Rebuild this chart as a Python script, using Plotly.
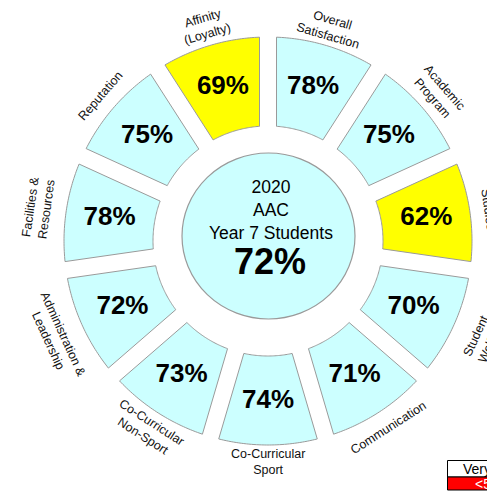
import numpy as np
import plotly.graph_objects as go

# ---------------- data ----------------
categories = ["Overall<br>Satisfaction", "Academic<br>Program", "Studies", "Student<br>Welfare",
              "Communication", "Co-Curricular<br>Sport", "Co-Curricular<br>Non-Sport",
              "Administration &<br>Leadership", "Facilities &<br>Resources", "Reputation",
              "Affinity<br>(Loyalty)"]
values = [78, 75, 62, 70, 71, 74, 73, 72, 78, 75, 69]
overall_value = 72
center_lines = ["2020", "AAC", "Year 7 Students"]
legend_labels = ["Very", "<50%"]

# ---------------- styling / geometry ----------------
OFF = 8                    # page body margin
W, H = 495 - OFF, 492 - OFF
CX, CY = 268, 241          # ring centre (page px)
RPX = 227                  # polar radius in px
R_IN, R_OUT = 115, 204     # ring radii (radial axis units = px)
HALF_GAP = 8.5
R_TEXT = 160
LABEL_RADII = [222, 226, 222, 237, 222, 221, 224, 233, 232, 222, 224]
CYAN = "#ccffff"
YELLOW = "#ffff00"
FONT = "Arial, Liberation Sans, sans-serif"


def seg_color(v):
    return YELLOW if v < 70 else CYAN


def px(x, y):
    """page pixel -> paper fraction"""
    return (x - OFF) / W, (H - (y - OFF)) / H


n = len(values)
step = 360.0 / n
centres = [i * step + step / 2 for i in range(n)]

fig = go.Figure()

for c, v in zip(centres, values):
    a0, a1 = c - step / 2, c + step / 2
    do = np.degrees(np.arcsin(HALF_GAP / R_OUT))
    di = np.degrees(np.arcsin(HALF_GAP / R_IN))
    th_out = np.linspace(a0 + do, a1 - do, 40)
    th_in = np.linspace(a1 - di, a0 + di, 40)
    theta = np.concatenate([th_out, th_in, th_out[:1]])
    r = np.concatenate([np.full(40, R_OUT), np.full(40, R_IN), [R_OUT]])
    fig.add_trace(go.Scatterpolar(
        r=r, theta=theta, mode="lines", fill="toself",
        fillcolor=seg_color(v), line=dict(color="#9a9a9a", width=1),
        hoverinfo="skip", showlegend=False))

fig.add_trace(go.Scatterpolar(
    r=[R_TEXT] * n, theta=centres, mode="text",
    text=[f"{v}%" for v in values],
    textfont=dict(family=FONT, size=26, color="black", weight="bold"),
    hoverinfo="skip", showlegend=False))

dx0, dy1 = px(CX - RPX, CY - RPX)
dx1, dy0 = px(CX + RPX, CY + RPX)
fig.update_layout(
    width=W, height=H,
    margin=dict(l=0, r=0, t=0, b=0),
    paper_bgcolor="white", plot_bgcolor="white",
    polar=dict(
        domain=dict(x=[max(dx0, 0), min(dx1, 1)], y=[max(dy0, 0), min(dy1, 1)]),
        bgcolor="white",
        radialaxis=dict(range=[0, RPX], visible=False, showgrid=False),
        angularaxis=dict(visible=False, direction="clockwise", rotation=90,
                         showgrid=False, thetaunit="degrees"),
    ),
)

# centre circle
x0, y0 = px(182, 319)
x1, y1 = px(355, 153)
fig.add_shape(type="circle", xref="paper", yref="paper",
              x0=x0, x1=x1, y0=y0, y1=y1,
              fillcolor=CYAN, line=dict(color="#9a9a9a", width=1.2), layer="above")

ax, ay = px(271, 210)
fig.add_annotation(xref="paper", yref="paper", x=ax, y=ay, xanchor="center", yanchor="middle",
                   text="<br>".join(center_lines), showarrow=False,
                   font=dict(family=FONT, size=17.5, color="black"))
ax, ay = px(270, 261)
fig.add_annotation(xref="paper", yref="paper", x=ax, y=ay, xanchor="center", yanchor="middle",
                   text=f"{overall_value}%", showarrow=False,
                   font=dict(family=FONT, size=36, color="black", weight="bold"))

# outer labels
for c, lab, rl in zip(centres, categories, LABEL_RADII):
    t = np.radians(c)
    ax, ay = px(CX + rl * np.sin(t), CY - rl * np.cos(t))
    ang = c if c <= 90 else (c - 180 if c < 270 else c - 360)
    fig.add_annotation(xref="paper", yref="paper", x=ax, y=ay,
                       xanchor="center", yanchor="middle",
                       text=lab, showarrow=False, textangle=ang,
                       font=dict(family=FONT, size=12.5, color="#111111"))

# legend fragment (bottom right)
x0, y0 = px(447.5, 477)
_, y1 = px(0, 460.5)
fig.add_shape(type="rect", xref="paper", yref="paper",
              x0=x0, x1=1.05, y0=y0, y1=y1,
              fillcolor="white", line=dict(color="black", width=1))
_, y2 = px(0, 490)
fig.add_shape(type="rect", xref="paper", yref="paper",
              x0=x0, x1=1.05, y0=y2, y1=y0,
              fillcolor="#ff0000", line=dict(color="black", width=1))
ax, ay = px(461, 469)
fig.add_annotation(xref="paper", yref="paper", x=ax, y=ay, xanchor="left", yanchor="middle",
                   text=legend_labels[0], showarrow=False,
                   font=dict(family=FONT, size=14, color="black"))
ax, ay = px(473, 484)
fig.add_annotation(xref="paper", yref="paper", x=ax, y=ay, xanchor="left", yanchor="middle",
                   text=legend_labels[1], showarrow=False,
                   font=dict(family=FONT, size=14, color="white"))

fig.write_html("out.html")
